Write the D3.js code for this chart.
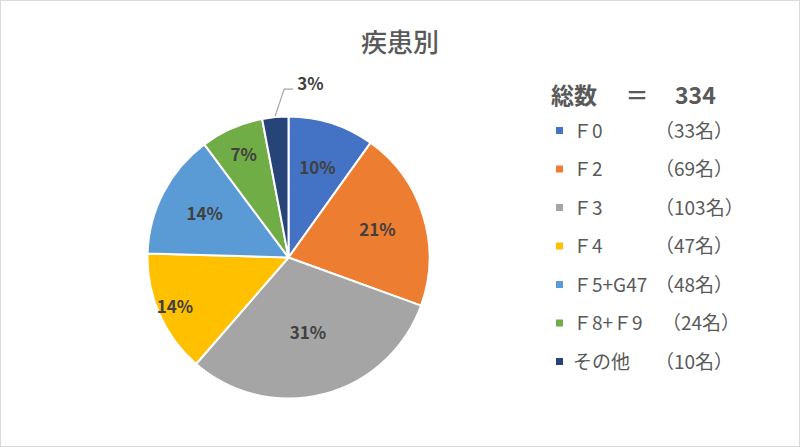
<!DOCTYPE html>
<html><head><meta charset="utf-8">
<script src="https://cdn.jsdelivr.net/npm/d3@7"></script>
<style>body{margin:0;background:#fff}</style>
</head><body><svg id="c" width="800" height="447"></svg>
<script>
const categories = ["Ｆ0", "Ｆ2", "Ｆ3", "Ｆ4", "Ｆ5+G47", "Ｆ8+Ｆ9", "その他"];
const values = [33, 69, 103, 47, 48, 24, 10];
const colors = ["#4472C4", "#ED7D31", "#A5A5A5", "#FFC000", "#5B9BD5", "#70AD47", "#264478"];
const title = "疾患別";
const total = d3.sum(values);

// label placement (fraction of radius), mimicking the spreadsheet's best-fit layout
const labelRadius = [0.67, 0.66, 0.55, 0.88, 0.67, 0.79];

const font = "'Noto Sans CJK JP', 'Noto Sans', sans-serif";
const svg = d3.select("#c");
svg.append("rect").attr("x",0.5).attr("y",0.5).attr("width",799).attr("height",446)
  .attr("fill","#fff").attr("stroke","#d9d9d9");

svg.append("text").attr("x",400).attr("y",52).attr("text-anchor","middle")
  .attr("font-family",font).attr("font-size",26).attr("font-weight",500).attr("fill","#595959").text(title);

const cx = 288.5, cy = 257.5, R = 141;
const pie = d3.pie().sort(null).value(d=>d);
const arcs = pie(values);
const arc = d3.arc().innerRadius(0).outerRadius(R);
const g = svg.append("g").attr("transform",`translate(${cx},${cy})`);
g.selectAll("path").data(arcs).join("path")
  .attr("d",arc).attr("fill",(d,i)=>colors[i]).attr("stroke","#fff").attr("stroke-width",2).attr("stroke-linejoin","round");

const fmt = v => Math.round(v/total*100) + "%";
arcs.forEach((d,i)=>{
  if (i === values.length-1) {
    const a = (d.startAngle+d.endAngle)/2;
    const p0 = [Math.sin(a)*(R+1), -Math.cos(a)*(R+1)];
    const p1 = [p0[0]+9, p0[1]-27];
    const p2 = [p1[0]+9, p1[1]];
    g.append("polyline").attr("points",[p0,p1,p2].map(p=>p.join(",")).join(" "))
      .attr("fill","none").attr("stroke","#a6a6a6").attr("stroke-width",1.2);
    g.append("text").attr("x",p2[0]+4).attr("y",p2[1]+0.5)
      .attr("font-family",font).attr("font-size",17).attr("font-weight","bold").attr("fill","#404040")
      .text(fmt(values[i]));
  } else {
    const r = R*labelRadius[i];
    const c = d3.arc().innerRadius(r).outerRadius(r).centroid(d);
    g.append("text").attr("x",c[0]).attr("y",c[1]).attr("dy","0.35em").attr("text-anchor","middle")
      .attr("font-family",font).attr("font-size",17).attr("font-weight","bold").attr("fill","#404040")
      .text(fmt(values[i]));
  }
});

// legend
const hdr = svg.append("g").attr("font-family",font).attr("font-size",23).attr("font-weight","bold").attr("fill","#595959");
hdr.append("text").attr("x",551).attr("y",104).text("総数");
hdr.append("text").attr("x",637).attr("y",104).attr("text-anchor","middle").text("＝");
hdr.append("text").attr("x",675).attr("y",104).text(total);

const ly = d3.scalePoint().domain(d3.range(categories.length)).range([131, 362]);
const lg = svg.append("g");
categories.forEach((c,i)=>{
  const y = ly(i);
  lg.append("rect").attr("x",556).attr("y",y-4).attr("width",7).attr("height",7).attr("fill",colors[i]);
  lg.append("text").attr("x",573).attr("y",y).attr("dy","0.36em").attr("font-family",font)
    .attr("font-size",19).attr("fill","#595959").text(c);
  lg.append("text").attr("x", i===5 ? 662 : 655).attr("y",y).attr("dy","0.36em").attr("font-family",font)
    .attr("font-size",19).attr("fill","#595959").text("（" + values[i] + "名）");
});
</script></body></html>
